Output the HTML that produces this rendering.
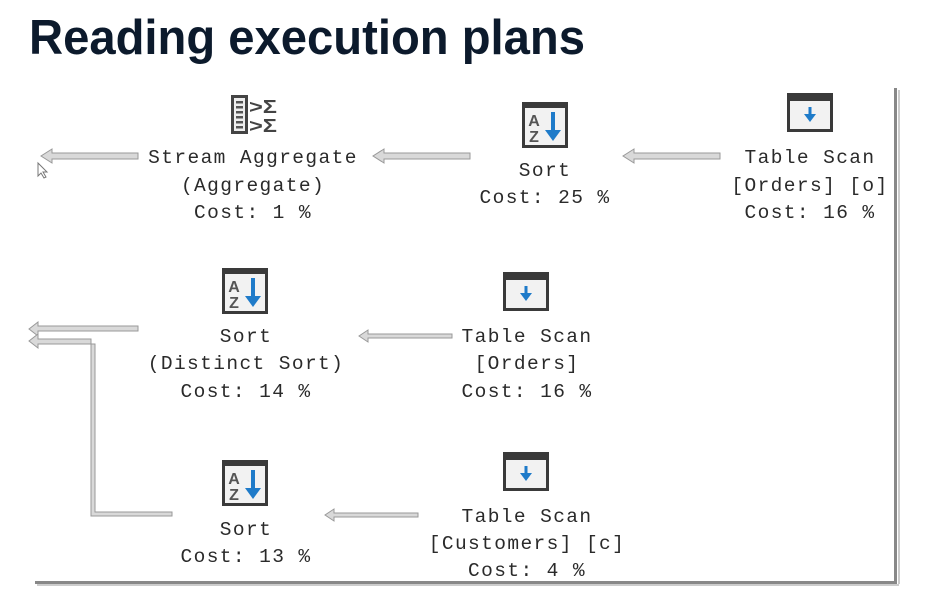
<!DOCTYPE html>
<html><head><meta charset="utf-8"><style>
html,body{margin:0;padding:0;background:#fff;}
svg{display:block}
.t{font-family:"Liberation Mono",monospace;font-size:19.5px;letter-spacing:1.4px;fill:#2a2a2a;text-anchor:middle}
</style></head><body>
<svg width="926" height="610" viewBox="0 0 926 610" xmlns="http://www.w3.org/2000/svg">
<defs>
<g id="sort">
<rect x="0" y="0" width="46" height="46" fill="#3a3a3a"/>
<rect x="3" y="6" width="40" height="37" fill="#f2f2f2"/>
<text x="12" y="24" font-family="Liberation Sans,sans-serif" font-weight="bold" font-size="16" fill="#555" text-anchor="middle">A</text>
<text x="12" y="40" font-family="Liberation Sans,sans-serif" font-weight="bold" font-size="16" fill="#555" text-anchor="middle">Z</text>
<rect x="29" y="10" width="4" height="22" fill="#1f7bc9"/>
<polygon points="23,28 39,28 31,39" fill="#1f7bc9"/>
</g>
<g id="scan">
<rect x="0" y="0" width="46" height="39" fill="#3a3a3a"/>
<rect x="3" y="8" width="40" height="28" fill="#f2f2f2"/>
<rect x="21.5" y="14" width="3" height="10" fill="#1f7bc9"/>
<polygon points="17,21 29,21 23,29" fill="#1f7bc9"/>
</g>
</defs>
<text x="29" y="54" font-family="Liberation Sans,sans-serif" font-weight="bold" font-size="49" fill="#0c1a2c" textLength="556" lengthAdjust="spacingAndGlyphs">Reading execution plans</text>

<!-- frame shadow -->
<rect x="894" y="88" width="3" height="496" fill="#888"/>
<rect x="898" y="90" width="2" height="494" fill="#ccc"/>
<rect x="35" y="581" width="862" height="3" fill="#888"/>
<rect x="37" y="584" width="862" height="2" fill="#ccc"/>

<!-- arrows -->
<g fill="#d9d9d9" stroke="#999" stroke-width="1">
<polygon points="138,153 52,153 52,149 41,156 52,163 52,159 138,159"/>
<polygon points="470,153 384,153 384,149 373,156 384,163 384,159 470,159"/>
<polygon points="720,153 634,153 634,149 623,156 634,163 634,159 720,159"/>
<polygon points="138,326 38,326 38,322 29,329 38,336 38,331 138,331"/>
<polygon points="452,334 368,334 368,330 359,336 368,342 368,338 452,338"/>
<polygon points="418,513 334,513 334,509 325,515 334,521 334,517 418,517"/>
<polygon points="172,512 95,512 95,344 38,344 38,348 29,341 38,334 38,339 91,339 91,516 172,516"/>
</g>
<!-- cursor -->
<path d="M38,163 L38,176 L41,173 L44,178 L46,177 L43,172 L47,172 Z" fill="#fff" stroke="#777" stroke-width="1"/>

<!-- stream aggregate icon -->
<g>
<rect x="231" y="95" width="17" height="39" fill="#444"/>
<rect x="234" y="98" width="11" height="33" fill="#eee"/>
<g fill="#555"><rect x="236" y="101" width="7" height="2.5"/><rect x="236" y="106" width="7" height="2.5"/><rect x="236" y="111" width="7" height="2.5"/><rect x="236" y="116" width="7" height="2.5"/><rect x="236" y="121" width="7" height="2.5"/><rect x="236" y="126" width="7" height="2.5"/></g>
<text x="249" y="113" font-family="Liberation Sans,sans-serif" font-weight="bold" font-size="18" fill="#444" textLength="28" lengthAdjust="spacingAndGlyphs">&gt;Σ</text>
<text x="249" y="132" font-family="Liberation Sans,sans-serif" font-weight="bold" font-size="18" fill="#444" textLength="28" lengthAdjust="spacingAndGlyphs">&gt;Σ</text>
</g>
<use href="#sort" x="522" y="102"/>
<use href="#scan" x="787" y="93"/>
<use href="#sort" x="222" y="268"/>
<use href="#scan" x="503" y="272"/>
<use href="#sort" x="222" y="460"/>
<use href="#scan" x="503" y="452"/>

<text class="t" x="253" y="163">Stream Aggregate</text>
<text class="t" x="253" y="191">(Aggregate)</text>
<text class="t" x="253" y="218">Cost: 1 %</text>
<text class="t" x="545" y="176">Sort</text>
<text class="t" x="545" y="203">Cost: 25 %</text>
<text class="t" x="810" y="163">Table Scan</text>
<text class="t" x="810" y="191">[Orders] [o]</text>
<text class="t" x="810" y="218">Cost: 16 %</text>

<text class="t" x="246" y="342">Sort</text>
<text class="t" x="246" y="369">(Distinct Sort)</text>
<text class="t" x="246" y="397">Cost: 14 %</text>
<text class="t" x="527" y="342">Table Scan</text>
<text class="t" x="527" y="369">[Orders]</text>
<text class="t" x="527" y="397">Cost: 16 %</text>

<text class="t" x="246" y="535">Sort</text>
<text class="t" x="246" y="562">Cost: 13 %</text>
<text class="t" x="527" y="522">Table Scan</text>
<text class="t" x="527" y="549">[Customers] [c]</text>
<text class="t" x="527" y="576">Cost: 4 %</text>
</svg>
</body></html>
